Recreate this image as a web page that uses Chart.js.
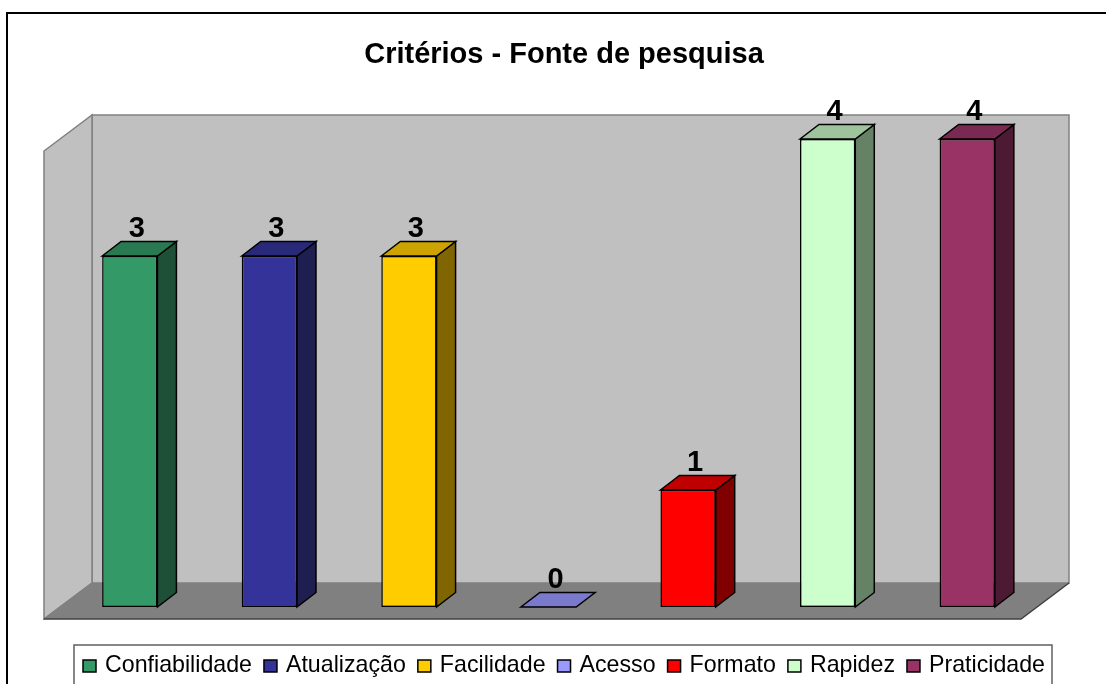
<!DOCTYPE html>
<html>
<head>
<meta charset="utf-8">
<script src="https://cdn.jsdelivr.net/npm/chart.js@4.4.1/dist/chart.umd.min.js"></script>
<style>
  html, body { margin: 0; padding: 0; background: #ffffff; }
  #wrap { width: 1106px; height: 684px; position: relative; overflow: hidden; }
</style>
</head>
<body>
<div id="wrap"><canvas id="c" width="1106" height="684"></canvas></div>
<script>
// ---- data ----
const titleText = 'Critérios - Fonte de pesquisa';
const categories = ['Confiabilidade', 'Atualização', 'Facilidade', 'Acesso', 'Formato', 'Rapidez', 'Praticidade'];
const values = [3, 3, 3, 0, 1, 4, 4];
const axisMin = 0;
const axisMax = 4;

// ---- styles ----
const frontColors = ['#339966', '#333399', '#FFCC00', '#9999FF', '#FF0000', '#CCFFCC', '#993366'];
const topColors   = ['#297A52', '#29297A', '#CCA300', '#7A7ACC', '#C00000', '#9DC49D', '#7A2952'];
const sideColors  = ['#1E5038', '#1E1E50', '#806600', '#4D4D80', '#800000', '#668266', '#4D1A33'];
const FONT = "'Liberation Sans', Arial, sans-serif";

// 3D geometry (pixels)
const BAR_DX = 19, BAR_DY = 14.5;   // bar depth
const BACK_DX = 32, BACK_DY = 24;   // bar front plane -> back wall
const FRONT_DX = 16, FRONT_DY = 12; // bar front plane -> floor front edge

function poly(ctx, pts, fill, stroke, lw) {
  ctx.beginPath();
  ctx.moveTo(pts[0][0], pts[0][1]);
  for (let i = 1; i < pts.length; i++) ctx.lineTo(pts[i][0], pts[i][1]);
  ctx.closePath();
  if (fill) { ctx.fillStyle = fill; ctx.fill(); }
  if (stroke) { ctx.strokeStyle = stroke; ctx.lineWidth = lw || 1; ctx.lineJoin = 'miter'; ctx.stroke(); }
}

const scenePlugin = {
  id: 'scene3d',
  beforeDraw(chart) {
    const ctx = chart.ctx;
    ctx.save();
    ctx.fillStyle = '#ffffff';
    ctx.fillRect(0, 0, chart.width, chart.height);
    // outer frame
    ctx.strokeStyle = '#000000';
    ctx.lineWidth = 2;
    ctx.strokeRect(7, 13, chart.width + 20, chart.height + 20);
    // title
    ctx.fillStyle = '#000000';
    ctx.font = 'bold 29px ' + FONT;
    ctx.textAlign = 'center';
    ctx.textBaseline = 'alphabetic';
    ctx.fillText(titleText, 564, 63);
    ctx.restore();
  },
  beforeDatasetsDraw(chart) {
    const ctx = chart.ctx, a = chart.chartArea;
    ctx.save();
    // back wall
    poly(ctx, [[a.left + BACK_DX, a.top - BACK_DY], [a.right + BACK_DX, a.top - BACK_DY],
               [a.right + BACK_DX, a.bottom - BACK_DY], [a.left + BACK_DX, a.bottom - BACK_DY]],
         '#C0C0C0', '#808080', 1.5);
    // left wall
    poly(ctx, [[a.left - FRONT_DX, a.top + FRONT_DY], [a.left + BACK_DX, a.top - BACK_DY],
               [a.left + BACK_DX, a.bottom - BACK_DY], [a.left - FRONT_DX, a.bottom + FRONT_DY]],
         '#C0C0C0', '#808080', 1.5);
    // floor
    poly(ctx, [[a.left - FRONT_DX, a.bottom + FRONT_DY], [a.right - FRONT_DX, a.bottom + FRONT_DY],
               [a.right + BACK_DX, a.bottom - BACK_DY], [a.left + BACK_DX, a.bottom - BACK_DY]],
         '#808080', null);
    ctx.strokeStyle = '#808080';
    ctx.lineWidth = 1.5;
    ctx.beginPath();
    ctx.moveTo(a.left - FRONT_DX, a.bottom + FRONT_DY);
    ctx.lineTo(a.left + BACK_DX, a.bottom - BACK_DY);
    ctx.stroke();
    ctx.strokeStyle = '#404040';
    ctx.beginPath();
    ctx.moveTo(a.left - FRONT_DX, a.bottom + FRONT_DY);
    ctx.lineTo(a.right - FRONT_DX, a.bottom + FRONT_DY);
    ctx.lineTo(a.right + BACK_DX, a.bottom - BACK_DY);
    ctx.stroke();
    ctx.restore();
  },
  afterDatasetsDraw(chart) {
    const ctx = chart.ctx;
    const meta = chart.getDatasetMeta(0);
    ctx.save();
    meta.data.forEach((bar, i) => {
      const p = bar.getProps(['x', 'y', 'base', 'width'], true);
      const l = p.x - p.width / 2, r = p.x + p.width / 2, t = p.y, b = p.base;
      // side face
      if (b - t > 0.5) {
        poly(ctx, [[r, t], [r + BAR_DX, t - BAR_DY], [r + BAR_DX, b - BAR_DY], [r, b]],
             sideColors[i], '#000000', 1.5);
      }
      // top face
      poly(ctx, [[l, t], [l + BAR_DX, t - BAR_DY], [r + BAR_DX, t - BAR_DY], [r, t]],
           topColors[i], '#000000', 1.5);
      // value label
      ctx.fillStyle = '#000000';
      ctx.font = 'bold 29px ' + FONT;
      ctx.textAlign = 'center';
      ctx.textBaseline = 'alphabetic';
      ctx.fillText(String(values[i]), p.x + 7, t - BAR_DY - 5);
    });
    ctx.restore();
  },
  afterDraw(chart) {
    const ctx = chart.ctx;
    ctx.save();
    // legend box
    ctx.fillStyle = '#ffffff';
    ctx.fillRect(74, 645, 978, 60);
    ctx.strokeStyle = '#606060';
    ctx.lineWidth = 1.5;
    ctx.strokeRect(74, 645, 978, 60);
    ctx.font = '23.2px ' + FONT;
    ctx.textAlign = 'left';
    ctx.textBaseline = 'alphabetic';
    let x = 83;
    categories.forEach((name, i) => {
      ctx.fillStyle = frontColors[i];
      ctx.fillRect(x, 660, 13, 12);
      ctx.strokeStyle = '#000000';
      ctx.lineWidth = 1.5;
      ctx.strokeRect(x, 660, 13, 12);
      x += 13 + 9;
      ctx.fillStyle = '#000000';
      ctx.fillText(name, x, 672);
      x += ctx.measureText(name).width + 12;
    });
    ctx.restore();
  }
};

new Chart(document.getElementById('c'), {
  type: 'bar',
  data: {
    labels: categories,
    datasets: [{
      label: titleText,
      data: values,
      backgroundColor: frontColors,
      borderColor: '#000000',
      borderWidth: 1.5,
      borderSkipped: false,
      barPercentage: 0.396,
      categoryPercentage: 1.0
    }]
  },
  options: {
    responsive: false,
    animation: false,
    devicePixelRatio: 1,
    layout: { padding: { left: 60, right: 69, top: 139, bottom: 77 } },
    plugins: {
      legend: { display: false },
      title: { display: false },
      tooltip: { enabled: false }
    },
    scales: {
      x: { display: false, offset: true, grid: { display: false } },
      y: { display: false, min: axisMin, max: axisMax, grid: { display: false } }
    }
  },
  plugins: [scenePlugin]
});
</script>
</body>
</html>
